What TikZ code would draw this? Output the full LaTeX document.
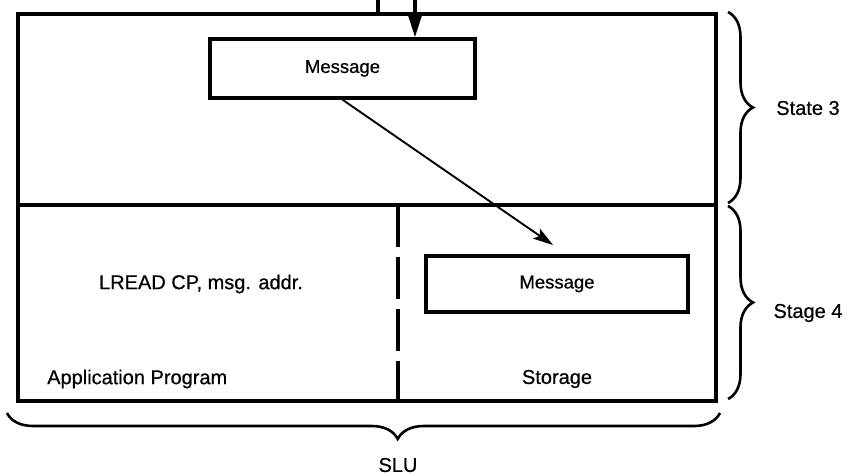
\documentclass[tikz,border=0pt]{standalone}
\usepackage{fontspec}
\setmainfont[FakeBold=0.6,AutoFakeBold=0.6]{Liberation Sans}
\usetikzlibrary{arrows.meta,decorations.pathreplacing,calc}

\begin{document}
\begin{tikzpicture}[x=1pt,y=-1pt,
  frame/.style={line width=3.6pt},
  msgbox/.style={draw,line width=3.4pt,inner sep=0pt,
    font=\fontsize{18.5}{22}\bfseries},
  lbl/.style={font=\fontsize{20}{24}\bfseries,inner sep=0pt},
  feed/.style={line width=3.2pt},
  flow/.style={line width=1.9pt,-{Stealth[length=20pt,width=12pt,inset=4pt]}},
  brc/.style={decorate,line width=2.6pt},
]
\useasboundingbox (0,0) rectangle (851,476);

% SLU frame with its two states
\draw[frame] (18,14) rectangle (716,401);
\draw[frame] (18,205) -- (716,205);
\draw[frame,dash pattern=on 42pt off 10pt] (398,205) -- (398,401);

% message buffers
\node[msgbox,minimum width=265pt,minimum height=59pt] (msgA) at (342.5,68.5) {Message};
\node[msgbox,minimum width=262pt,minimum height=56pt] (msgB) at (557,284) {Message};

% incoming lines
\coordinate (inL) at (378,0);
\coordinate (inLend) at (378,14);
\coordinate (inR) at (415,0);
\draw[feed] (inL) -- (inLend);
\draw[feed,-{Triangle[length=22pt,width=13pt]}] (inR) -- (inR |- msgA.north);

% transfer into storage
\coordinate (tipB) at (553,245);
\draw[flow] (msgA.south) -- (tipB);

% region texts
\node[lbl] (lread) at (201,284) {LREAD CP, msg. addr.};
\node[lbl,anchor=west] (app) at (47,379) {Application Program};
\node[lbl] (stor) at (557,379) {Storage};

% braces and their labels
\draw[brc,decoration={brace,amplitude=25pt}] (728,12) -- (728,203);
\draw[brc,decoration={brace,amplitude=25pt}] (728,206) -- (728,399);
\draw[brc,decoration={brace,amplitude=26pt,aspect=0.452}] (720,413) -- (7,413);
\node[lbl] (s3) at (808,108) {State 3};
\node[lbl] (s4) at (808,313) {Stage 4};
\node[lbl] (slulbl) at (398,465) {SLU};
\end{tikzpicture}
\end{document}
